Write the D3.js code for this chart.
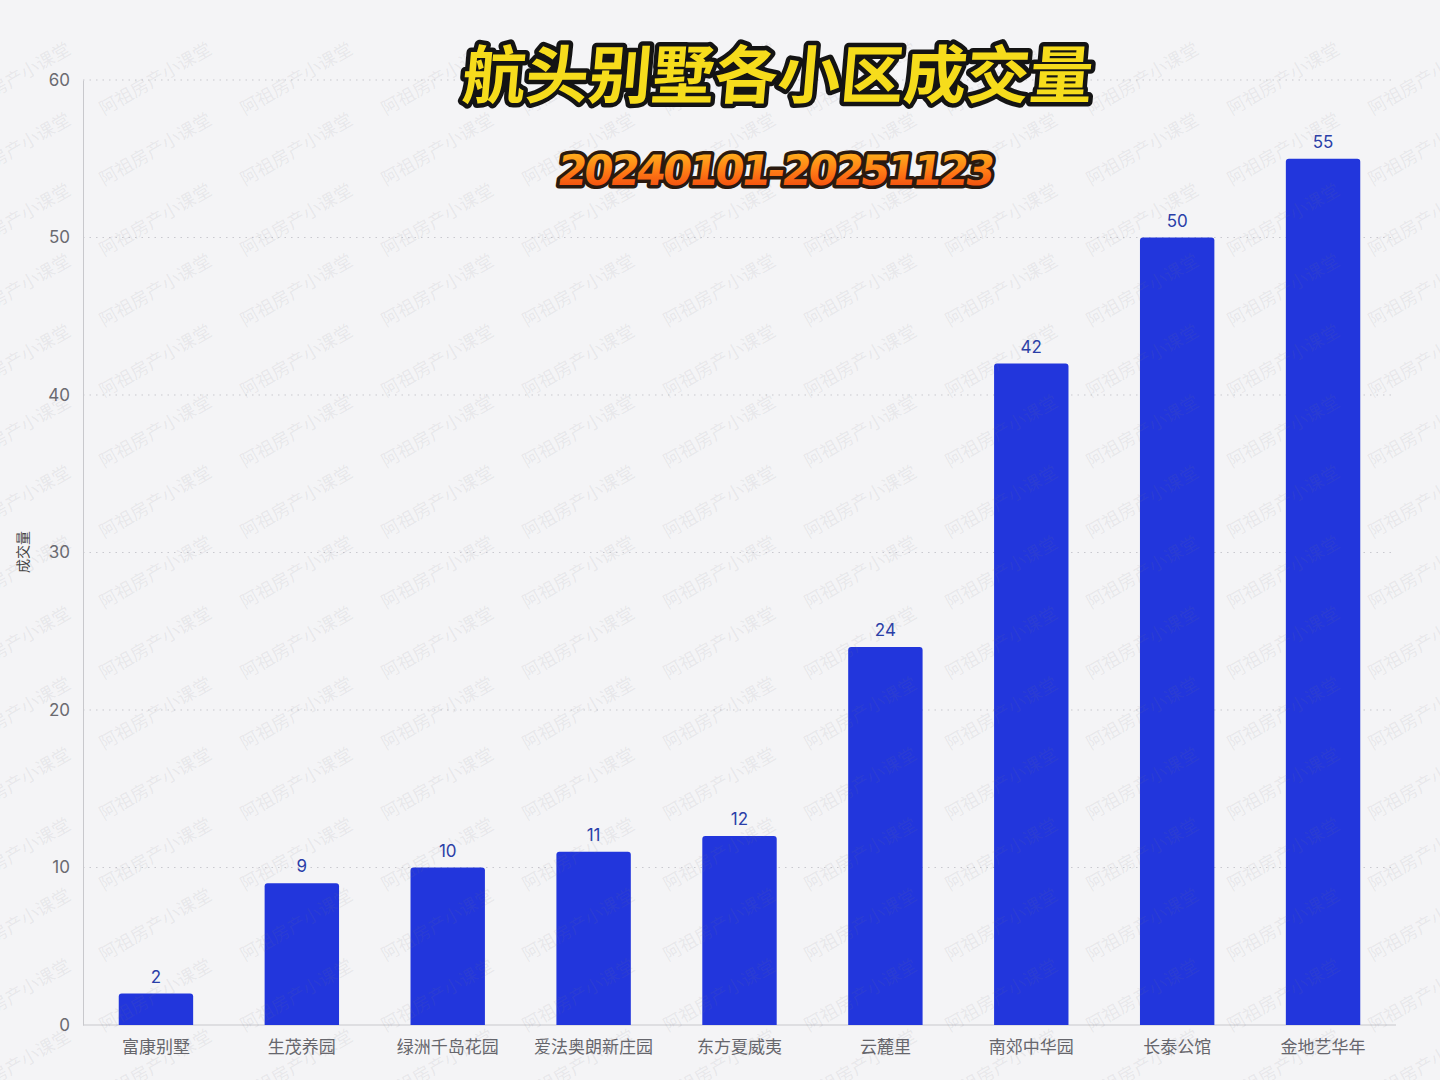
<!DOCTYPE html>
<html><head><meta charset="utf-8">
<script src="https://cdn.jsdelivr.net/npm/d3@7"></script>
<style>
html,body{margin:0;padding:0;background:#f4f4f6;}
svg{display:block;}
</style></head>
<body>
<script>
const categories = ["富康别墅","生茂养园","绿洲千岛花园","爱法奥朗新庄园","东方夏威夷","云麓里","南郊中华园","长泰公馆","金地艺华年"];
const values = [2, 9, 10, 11, 12, 24, 42, 50, 55];
const yTicks = [0, 10, 20, 30, 40, 50, 60];
const titleText = "航头别墅各小区成交量";
const subtitleText = "20240101-20251123";
const yLabel = "成交量";
const watermark = "阿祖房产小课堂";

const W = 1440, H = 1080;
const m = {left: 83, right: 44, top: 80, bottom: 55};
const svg = d3.select("body").append("svg").attr("width", W).attr("height", H);
svg.append("rect").attr("width", W).attr("height", H).attr("fill", "#f4f4f6");

const defs = svg.append("defs");
const grad = defs.append("linearGradient").attr("id","og").attr("x1",0).attr("y1",0).attr("x2",0).attr("y2",1);
grad.append("stop").attr("offset","0%").attr("stop-color","#ffc21e");
grad.append("stop").attr("offset","50%").attr("stop-color","#ff7d16");
grad.append("stop").attr("offset","100%").attr("stop-color","#ee3a0c");

const x = d3.scaleBand().domain(categories).range([m.left, W - m.right]).paddingInner(0.49).paddingOuter(0.245);
const y = d3.scaleLinear().domain([0, 60]).range([H - m.bottom, m.top]);

// grid
const g = svg.append("g");
g.selectAll(".grid").data(yTicks.filter(d => d > 0)).join("line")
  .attr("x1", m.left).attr("x2", W - m.right)
  .attr("y1", d => y(d)).attr("y2", d => y(d))
  .attr("stroke", "#c9c9cf").attr("stroke-width", 1).attr("stroke-dasharray", "1.5,5");

// axes
const yAxis = d3.axisLeft(y).tickValues(yTicks).tickSize(0).tickPadding(13);
const ya = svg.append("g").attr("transform", `translate(${m.left},0)`).call(yAxis);
ya.select(".domain").attr("stroke", "#c8c8cc");
ya.selectAll("text").attr("font-family", "Inter, 'Noto Sans', sans-serif").attr("font-size", 17).attr("fill", "#6a6a70");

const xAxis = d3.axisBottom(x).tickSize(0).tickPadding(16);
const xa = svg.append("g").attr("transform", `translate(0,${H - m.bottom})`).call(xAxis);
xa.select(".domain").attr("stroke", "#c8c8cc").attr("d", `M${m.left},0H${W - m.right}`);
xa.selectAll("text").attr("font-family", "'Noto Sans CJK SC', sans-serif").attr("font-size", 17).attr("fill", "#66666c");

// bars
svg.append("g").selectAll("path").data(values).join("path")
  .attr("fill", "#2236dc")
  .attr("d", (d, i) => {
    const x0 = x(categories[i]), w = x.bandwidth(), y0 = y(d), y1 = y(0), r = 3;
    return `M${x0},${y1}V${y0 + r}Q${x0},${y0} ${x0 + r},${y0}H${x0 + w - r}Q${x0 + w},${y0} ${x0 + w},${y0 + r}V${y1}Z`;
  });

svg.append("g").selectAll("text").data(values).join("text")
  .attr("x", (d, i) => x(categories[i]) + x.bandwidth() / 2)
  .attr("y", d => y(d) - 11)
  .attr("text-anchor", "middle")
  .attr("font-family", "Inter, 'Noto Sans', sans-serif").attr("font-size", 17)
  .attr("fill", "#2a3ea8").text(d => d);

// y label
svg.append("text").attr("transform", "translate(28,552) rotate(-90)")
  .attr("text-anchor", "middle").attr("font-family", "'Noto Sans CJK SC', sans-serif")
  .attr("font-size", 14).attr("fill", "#444").text(yLabel);

// watermark
const wm = svg.append("g").attr("pointer-events", "none");
for (let r = 0; r < 16; r++) {
  for (let c = -1; c < 10; c++) {
    const cx = 100 + c * 141 + 56;
    const cy = 80 + r * 70.5;
    wm.append("text").attr("transform", `translate(${cx},${cy}) rotate(-30)`)
      .attr("text-anchor", "middle").attr("dominant-baseline", "middle")
      .attr("font-family", "'Noto Sans CJK SC', sans-serif").attr("font-size", 18)
      .attr("fill", "rgba(120,120,130,0.11)").text(watermark);
  }
}

// title
const tg = svg.append("g");
tg.append("text").attr("x", 776).attr("y", 98).attr("text-anchor", "middle")
  .attr("font-family", "'Noto Sans CJK SC', sans-serif").attr("font-weight", 700).attr("font-size", 63)
  .attr("fill", "#f6dc1c").attr("stroke", "#141414").attr("stroke-width", 9).attr("stroke-linejoin", "round")
  .attr("paint-order", "stroke").attr("transform", "skewX(-5)").attr("transform-origin", "776 98")
  .text(titleText);
tg.append("text").attr("x", 773).attr("y", 185).attr("text-anchor", "middle")
  .attr("font-family", "'DejaVu Sans', sans-serif").attr("font-weight", "bold").attr("font-size", 42)
  .attr("fill", "url(#og)").attr("stroke", "#2a1a10").attr("stroke-width", 7).attr("stroke-linejoin", "round")
  .attr("paint-order", "stroke").attr("transform", "skewX(-8)").attr("transform-origin", "773 185")
  .attr("letter-spacing", -3).text(subtitleText);
</script>
</body></html>
